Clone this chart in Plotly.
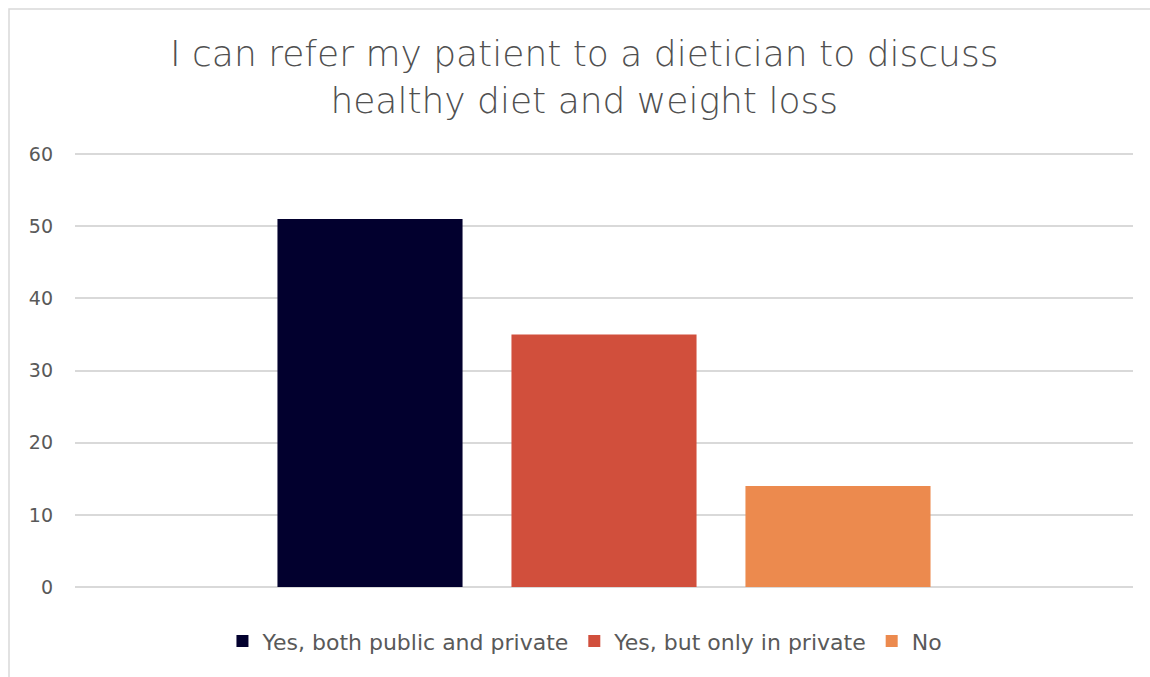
import plotly.graph_objects as go

categories = [""]
series_names = ["Yes, both public and private", "Yes, but only in private", "No"]
series_values = [[51], [35], [14]]
series_colors = ["#02002E", "#D14F3C", "#EC8A4E"]
y_ticks = [0, 10, 20, 30, 40, 50, 60]

FONT = "DejaVu Sans"
GREY = "#595959"

fig = go.Figure()
for name, vals, col in zip(series_names, series_values, series_colors):
    fig.add_trace(go.Bar(x=categories, y=vals, name=name, marker_color=col,
                         marker_line_width=0))

TOP, BOT = 153, 90
fig.update_layout(
    width=1150, height=677,
    margin=dict(l=75, r=17, t=TOP, b=BOT),
    paper_bgcolor="white", plot_bgcolor="white",
    barmode="group", bargap=0.3365, bargroupgap=0.209,
    title=dict(text="I can refer my patient to a dietician to discuss<br>healthy diet and weight loss",
               x=0.508, xanchor="center", y=0.902, yanchor="middle",
               font=dict(family=FONT, size=36, color="#505050", weight=300)),
    font=dict(family=FONT, color=GREY),
    showlegend=True,
    legend=dict(orientation="h", x=0.482, xanchor="center", y=-0.125, yanchor="middle",
                font=dict(family=FONT, size=22, color=GREY), itemwidth=30,
                traceorder="normal"),
    xaxis=dict(range=[-0.5, 0.5], showticklabels=False, showgrid=False, zeroline=False,
               showline=False, fixedrange=True),
    yaxis=dict(range=[0, 60.15], tickvals=y_ticks, showgrid=True, gridcolor="#D9D9D9",
               gridwidth=1.5, zeroline=True, zerolinecolor="#D9D9D9", zerolinewidth=1.5,
               showline=False, tickfont=dict(family=FONT, size=19, color=GREY),
               ticklabelstandoff=21),
    shapes=[dict(type="rect", xref="paper", yref="paper",
                 x0=(9 - 75) / 1058, x1=(1160 - 75) / 1058,
                 y0=(587 - 690) / 434, y1=(587 - 9) / 434,
                 line=dict(color="#D9D9D9", width=1.5), fillcolor="rgba(0,0,0,0)",
                 layer="below")],
)

fig.write_html("out.html")
